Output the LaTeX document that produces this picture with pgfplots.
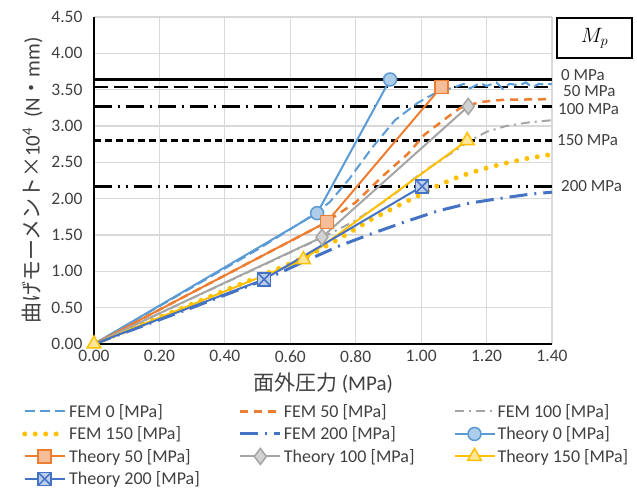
\documentclass[border=0pt]{standalone}
\usepackage{fontspec}
\setmainfont{Carlito}
\newfontfamily\jp{Noto Sans CJK JP}
\usepackage{pgfplots}
\pgfplotsset{compat=1.18}
\definecolor{cBlue}{HTML}{5B9BD5}
\definecolor{cOrange}{HTML}{ED7D31}
\definecolor{cGray}{HTML}{A5A5A5}
\definecolor{cGold}{HTML}{FFC000}
\definecolor{cDBlue}{HTML}{4472C4}
\definecolor{gridc}{HTML}{D9D9D9}
\definecolor{txt}{HTML}{404040}
\pgfdeclareplotmark{sqx}{%
  \pgfpathrectangle{\pgfqpoint{-\pgfplotmarksize}{-\pgfplotmarksize}}{\pgfqpoint{2\pgfplotmarksize}{2\pgfplotmarksize}}%
  \pgfusepathqfillstroke
  \pgfpathmoveto{\pgfqpoint{-\pgfplotmarksize}{-\pgfplotmarksize}}\pgfpathlineto{\pgfqpoint{\pgfplotmarksize}{\pgfplotmarksize}}%
  \pgfpathmoveto{\pgfqpoint{-\pgfplotmarksize}{\pgfplotmarksize}}\pgfpathlineto{\pgfqpoint{\pgfplotmarksize}{-\pgfplotmarksize}}%
  \pgfusepathqstroke}
\begin{document}
\begin{tikzpicture}
\path[use as bounding box] (-94pt,-145pt) rectangle (543pt,344pt);
\begin{axis}[
  at={(0pt,0pt)}, anchor=south west,
  scale only axis, width=458pt, height=327pt,
  xmin=0, xmax=1.4, ymin=0, ymax=4.5,
  xtick={0,0.2,0.4,0.6,0.8,1.0,1.2,1.4},
  ytick={0,0.5,1.0,1.5,2.0,2.5,3.0,3.5,4.0,4.5},
  /pgf/number format/.cd, fixed, fixed zerofill, precision=2, assume math mode=true, /pgfplots/.cd,
  grid=major, major grid style={gridc, line width=1.2pt},
  axis x line*=bottom, axis y line*=left,
  axis line style={black, line width=2.2pt, -},
  major tick length=0pt,
  tick label style={font=\fontsize{17.5}{20}\selectfont, text=txt},
  yticklabel style={xshift=-8pt},
  xticklabel style={yshift=-3pt},
  xlabel={{\jp 面外圧力} (MPa)},
  ylabel={{\jp 曲げモーメント×}10\textsuperscript{4}\ \ (N{\jp ・}mm)},
  label style={font=\fontsize{21}{24}\selectfont, text=txt},
  xlabel style={yshift=-3pt},
  ylabel style={yshift=2pt},
  clip=false,
  legend columns=3,
  legend cell align=left,
  legend style={draw=none, fill=none, font=\fontsize{18}{21}\selectfont, text=txt,
    at={(axis description cs:0,0)}, anchor=north west, xshift=-72pt, yshift=-58pt,
    /tikz/every even column/.append style={column sep=37pt},
    row sep=4pt, inner sep=0pt, nodes={inner sep=2pt}},
  legend image code/.code={\draw[#1, mark indices={2}] plot coordinates {(0pt,0pt) (20pt,0pt) (40pt,0pt)};},
]
% reference lines
\addplot[black, line width=2.5pt, forget plot] coordinates {(0,3.64) (1.4,3.64)};
\addplot[black, line width=2.5pt, dash pattern=on 14pt off 6pt, forget plot] coordinates {(0,3.54) (1.4,3.54)};
\addplot[black, line width=2.5pt, dash pattern=on 18pt off 6pt on 2pt off 6pt, forget plot] coordinates {(0,3.27) (1.4,3.27)};
\addplot[black, line width=2.5pt, dash pattern=on 7pt off 4pt, forget plot] coordinates {(0,2.80) (1.4,2.80)};
\addplot[black, line width=2.5pt, dash pattern=on 18pt off 6pt on 2pt off 6pt on 2pt off 6pt, forget plot] coordinates {(0,2.17) (1.4,2.17)};
% FEM
\addplot[cBlue, line width=2pt, dash pattern=on 10pt off 5pt] coordinates {
(0,0) (0.30,0.78) (0.50,1.30) (0.65,1.72) (0.72,1.95) (0.78,2.27) (0.85,2.70) (0.92,3.08) (0.99,3.32) (1.05,3.47) (1.10,3.53) (1.13,3.58) (1.15,3.52) (1.18,3.59) (1.20,3.55) (1.23,3.60) (1.25,3.51) (1.27,3.58) (1.30,3.56) (1.32,3.60) (1.34,3.53) (1.36,3.58) (1.38,3.57) (1.40,3.58)};
\addlegendentry{FEM 0 [MPa]}
\addplot[cOrange, line width=2.5pt, dash pattern=on 8pt off 6pt] coordinates {
(0,0) (0.50,1.18) (0.70,1.65) (0.80,1.95) (0.88,2.30) (0.96,2.62) (1.01,2.88) (1.08,3.12) (1.12,3.25) (1.18,3.33) (1.25,3.36) (1.40,3.37)};
\addlegendentry{FEM 50 [MPa]}
\addplot[cGray, line width=2pt, dash pattern=on 9pt off 5pt on 2pt off 5pt] coordinates {
(0,0) (0.50,1.05) (0.70,1.47) (0.80,1.70) (0.90,2.00) (1.00,2.35) (1.10,2.65) (1.15,2.80) (1.20,2.92) (1.26,3.00) (1.33,3.05) (1.40,3.08)};
\addlegendentry{FEM 100 [MPa]}
\addplot[cGold, line width=5pt, line cap=round, dash pattern=on 0pt off 10.5pt] coordinates {
(0,0) (0.30,0.55) (0.50,0.92) (0.65,1.20) (0.75,1.45) (0.85,1.72) (0.95,1.95) (1.00,2.06) (1.06,2.20) (1.12,2.31) (1.19,2.41) (1.25,2.48) (1.32,2.55) (1.40,2.61)};
\addlegendentry{FEM 150 [MPa]}
\addplot[cDBlue, line width=3pt, dash pattern=on 18pt off 7pt on 2pt off 7pt] coordinates {
(0,0) (0.30,0.50) (0.52,0.88) (0.65,1.15) (0.75,1.35) (0.85,1.52) (0.95,1.68) (1.05,1.83) (1.15,1.94) (1.25,2.01) (1.33,2.06) (1.40,2.09)};
\addlegendentry{FEM 200 [MPa]}
% Theory
\addplot[cBlue, line width=2pt, mark=*, mark size=6.5pt, mark indices={2,3}, mark options={solid, fill=cBlue!50!white, draw=cBlue, line width=1.5pt}] coordinates {(0,0) (0.682,1.80) (0.905,3.64)};
\addlegendentry{Theory 0 [MPa]}
\addplot[cOrange, line width=2pt, mark=square*, mark size=6.5pt, mark indices={2,3}, mark options={solid, fill=cOrange!50!white, draw=cOrange, line width=1.5pt}] coordinates {(0,0) (0.712,1.68) (1.062,3.54)};
\addlegendentry{Theory 50 [MPa]}
\addplot[cGray, line width=2pt, mark=diamond*, mark size=8pt, mark indices={2,3}, mark options={solid, fill=cGray!50!white, draw=cGray, line width=1.5pt}] coordinates {(0,0) (0.697,1.47) (1.144,3.27)};
\addlegendentry{Theory 100 [MPa]}
\addplot[cGold, line width=2pt, mark=triangle*, mark size=8pt, mark options={solid, fill=cGold!40!white, draw=cGold, line width=1.5pt}] coordinates {(0,0) (0.64,1.16) (1.141,2.80)};
\addlegendentry{Theory 150 [MPa]}
\addplot[cDBlue, line width=2pt, mark=sqx, mark size=6.5pt, mark indices={2,3}, mark options={solid, fill=cDBlue!35!white, draw=cDBlue, line width=1.5pt}] coordinates {(0,0) (0.52,0.89) (1.003,2.17)};
\addlegendentry{Theory 200 [MPa]}
% labels
\node[anchor=west, font=\fontsize{17}{19}\selectfont, text=txt, inner sep=0pt] at (axis cs:1.4,3.64) [xshift=9pt, yshift=4pt] {0 MPa};
\node[anchor=west, font=\fontsize{17}{19}\selectfont, text=txt, inner sep=0pt] at (axis cs:1.4,3.54) [xshift=11pt, yshift=-4.5pt] {50 MPa};
\node[anchor=west, font=\fontsize{17}{19}\selectfont, text=txt, inner sep=0pt] at (axis cs:1.4,3.27) [xshift=6pt, yshift=-3pt] {100 MPa};
\node[anchor=west, font=\fontsize{17}{19}\selectfont, text=txt, inner sep=0pt] at (axis cs:1.4,2.80) [xshift=5pt] {150 MPa};
\node[anchor=west, font=\fontsize{17}{19}\selectfont, text=txt, inner sep=0pt] at (axis cs:1.4,2.17) [xshift=9pt] {200 MPa};
\draw[line width=1.8pt, fill=white] (axis description cs:1.011,0.875) rectangle (axis description cs:1.175,0.997);
\node[font=\fontsize{21}{24}\selectfont] at (axis description cs:1.093,0.936) {$M_p$};
\end{axis}
\end{tikzpicture}
\end{document}
